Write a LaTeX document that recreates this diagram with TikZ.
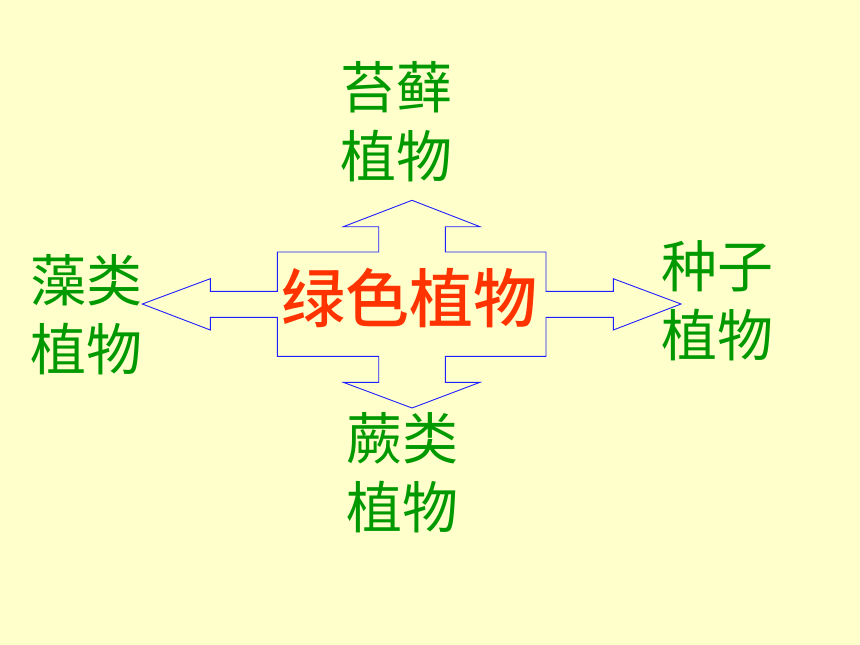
\documentclass[tikz,border=0pt]{standalone}
\usepackage{fontspec}
\newfontfamily\cjk{Noto Sans CJK SC}
\newfontfamily\cjkbold{Noto Sans CJK SC Medium}
\definecolor{bgyellow}{RGB}{255,255,204}
\definecolor{labgreen}{RGB}{0,153,0}
\definecolor{titlered}{RGB}{255,51,0}
\definecolor{arrowblue}{RGB}{30,30,255}
\tikzset{
  label/.style={font=\cjk\fontsize{56}{69}\selectfont, text=labgreen, align=center, inner sep=0pt},
  title/.style={font=\cjkbold\fontsize{64}{64}\selectfont, text=titlered, inner sep=0pt},
  outline/.style={draw=arrowblue, line width=0.9pt, line join=miter}
}
\begin{document}
\begin{tikzpicture}[x=1pt,y=-1pt]
\fill[bgyellow] (0,0) rectangle (860,645);
\useasboundingbox (0,0) rectangle (860,645);
\draw[outline] (412,200.3) -- (480,226.7) -- (445.3,226.7) -- (445.3,252) -- (546,252)
  -- (546,291.3) -- (613.3,291.3) -- (613.3,278.7) -- (681,304) -- (613.3,330)
  -- (613.3,317.3) -- (546,317.3) -- (546,356.3) -- (445.3,356.3) -- (445.3,382.3)
  -- (480,382.3) -- (412,408) -- (343.3,382.3) -- (378.7,382.3) -- (378.7,356.3)
  -- (277.3,356.3) -- (277.3,317.3) -- (210.3,317.3) -- (210.3,330) -- (142.3,304)
  -- (210.3,278.7) -- (210.3,291.3) -- (277.3,291.3) -- (277.3,252) -- (378.7,252)
  -- (378.7,226.7) -- (343.3,226.7) -- cycle;
\node[title] (center) at (409.2,298.3) {绿色植物};
\node[label] (top) at (396,122) {苔藓\\植物};
\node[label] (left) at (86.7,315) {藻类\\植物};
\node[label] (right) at (717,301) {种子\\植物};
\node[label] (bottom) at (402,472.5) {蕨类\\植物};
\end{tikzpicture}
\end{document}
